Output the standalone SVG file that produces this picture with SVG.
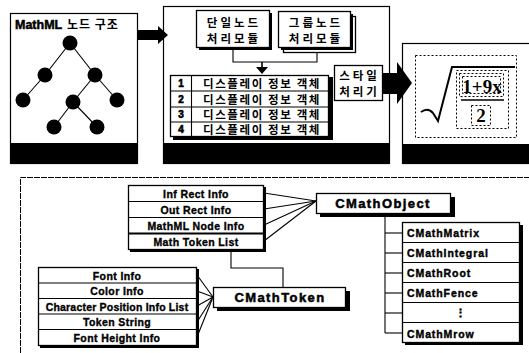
<svg xmlns="http://www.w3.org/2000/svg" width="529" height="353" viewBox="0 0 529 353">
  <style>
    .frame { fill: #fff; stroke: #000; stroke-width: 1.2; }
    .box { fill: #fff; stroke: #000; stroke-width: 1.3; }
    .shadow { fill: #000; }
    .bar { fill: #000; }
    .line { fill: none; stroke: #000; stroke-width: 1.1; }
    .dot { fill: none; stroke: #000; stroke-width: 1; stroke-dasharray: 2 2; }
    .ko { font-family: "Noto Sans CJK KR", "Noto Sans", sans-serif; font-weight: bold; fill: #000; }
    .en { font-family: "Liberation Sans", Arial, sans-serif; font-weight: bold; fill: #000; }
    .cell { font-size: 10.5px; letter-spacing: 0.4px; text-anchor: middle; stroke: #000; stroke-width: 0.35; }
    .cls { font-size: 13px; letter-spacing: 1.4px; text-anchor: middle; stroke: #000; stroke-width: 0.5; }
    .sub { font-size: 10.5px; letter-spacing: 0.9px; stroke: #000; stroke-width: 0.4; }
    .math { font-family: "Liberation Serif", "Times New Roman", serif; font-weight: bold; font-size: 19px; fill: #000; }
    .two { font-size: 11.5px; letter-spacing: 3px; text-anchor: middle; }
  </style>

  <!-- Panel 1: MathML node tree -->
  <g id="panel-tree">
    <rect class="frame" x="10.5" y="13.5" width="127" height="150"/>
    <rect class="bar" x="10" y="143" width="128" height="21"/>
    <text x="15" y="29" class="en" font-size="12.5" stroke="#000" stroke-width="0.5">MathML</text>
    <text x="67" y="29" class="ko" font-size="12" letter-spacing="1">노드 구조</text>
    <g class="line" stroke-width="1.4">
      <line x1="70" y1="43" x2="45" y2="75"/>
      <line x1="70" y1="43" x2="95" y2="75"/>
      <line x1="45" y1="75" x2="23" y2="100"/>
      <line x1="95" y1="75" x2="73" y2="102"/>
      <line x1="95" y1="75" x2="117" y2="100"/>
      <line x1="73" y1="102" x2="54" y2="127"/>
      <line x1="73" y1="102" x2="97" y2="127"/>
    </g>
    <g fill="#000">
      <circle cx="70" cy="43" r="7.5"/>
      <circle cx="45" cy="75" r="7.5"/>
      <circle cx="95" cy="75" r="7.5"/>
      <circle cx="23" cy="100" r="7.5"/>
      <circle cx="73" cy="102" r="7.5"/>
      <circle cx="117" cy="100" r="7.5"/>
      <circle cx="54" cy="127" r="7.5"/>
      <circle cx="97" cy="127" r="7.5"/>
    </g>
  </g>

  <!-- Panel 2: processing modules -->
  <g id="panel-process">
    <rect class="frame" x="163.5" y="6.5" width="226" height="157"/>
    <rect class="bar" x="163" y="143" width="227" height="21"/>
  </g>

  <g id="node-single">
    <rect class="shadow" x="199" y="13" width="73" height="37"/>
    <rect class="box" x="196.5" y="10.5" width="73" height="37"/>
    <text x="234" y="27" class="ko two">단일노드</text>
    <text x="234" y="43" class="ko two">처리모듈</text>
  </g>

  <g id="node-group">
    <rect class="box" x="283.5" y="16.5" width="72" height="36"/>
    <rect class="shadow" x="281" y="14" width="72" height="36"/>
    <rect class="box" x="278.5" y="11.5" width="72" height="36"/>
    <text x="316" y="27" class="ko two">그룹노드</text>
    <text x="316" y="43" class="ko two">처리모듈</text>
  </g>

  <g id="node-display-table">
    <rect class="shadow" x="173" y="77" width="160" height="63"/>
    <rect class="box" x="170.5" y="75.5" width="158" height="61"/>
    <g class="line">
      <line x1="170.5" y1="91" x2="328.5" y2="91"/>
      <line x1="170.5" y1="107" x2="328.5" y2="107"/>
      <line x1="170.5" y1="122" x2="328.5" y2="122"/>
      <line x1="191.5" y1="75.5" x2="191.5" y2="136.5"/>
    </g>
    <g class="en" font-size="10" text-anchor="middle" stroke="#000" stroke-width="0.6">
      <text x="181" y="87">1</text>
      <text x="181" y="103">2</text>
      <text x="181" y="118">3</text>
      <text x="181" y="133">4</text>
    </g>
    <g class="ko" font-size="11.5" letter-spacing="1.6" text-anchor="middle">
      <text x="262" y="87.5">디스플레이 정보 객체</text>
      <text x="262" y="103.5">디스플레이 정보 객체</text>
      <text x="262" y="118.5">디스플레이 정보 객체</text>
      <text x="262" y="133.5">디스플레이 정보 객체</text>
    </g>
  </g>

  <g id="node-style">
    <rect class="box" x="334.5" y="65.5" width="48" height="35"/>
    <text x="359.5" y="80" class="ko two" letter-spacing="2.5">스타일</text>
    <text x="359.5" y="96" class="ko two" letter-spacing="2.5">처리기</text>
  </g>

  <!-- Panel 3: rendered result -->
  <g id="panel-render">
    <rect class="frame" x="402.5" y="43.5" width="130" height="120"/>
    <rect class="bar" x="402" y="144" width="127" height="20"/>
    <rect class="dot" x="415.5" y="55.5" width="101" height="82"/>
    <path d="M421 112 Q428 107 433 113 L438 121 L452 67 L515 67" fill="none" stroke="#000" stroke-width="2"/>
    <rect class="dot" x="456.5" y="70.5" width="52" height="58"/>
    <rect class="dot" x="459.5" y="73.5" width="44" height="23"/>
    <rect class="dot" x="462.5" y="76.5" width="38" height="17"/>
    <line x1="461" y1="100" x2="504" y2="100" stroke="#000" stroke-width="1.6"/>
    <rect class="dot" x="471.5" y="105.5" width="19" height="20"/>
    <text x="482" y="93" class="math" text-anchor="middle">1+9x</text>
    <text x="481" y="122" class="math" text-anchor="middle">2</text>
  </g>

  <!-- Lower part: class structure -->
  <g id="panel-classes">
    <path d="M20.5 353 L20.5 177.5 L529 177.5" fill="none" stroke="#000" stroke-width="1" stroke-dasharray="6 1"/>
  </g>

  <g id="node-object-fields">
    <rect class="shadow" x="130" y="187" width="136" height="65"/>
    <rect class="box" x="128.5" y="185.5" width="135" height="64"/>
    <g class="line">
      <line x1="128.5" y1="201.5" x2="263.5" y2="201.5"/>
      <line x1="128.5" y1="217.5" x2="263.5" y2="217.5"/>
      <line x1="128.5" y1="233.5" x2="263.5" y2="233.5" stroke-width="1.8"/>
    </g>
    <g class="en cell">
      <text x="196" y="197.5">Inf Rect Info</text>
      <text x="196" y="213.5">Out Rect Info</text>
      <text x="196" y="229.5">MathML Node Info</text>
      <text x="196" y="245.5">Math Token List</text>
    </g>
  </g>

  <g id="node-cmathobject">
    <rect class="shadow" x="320" y="197" width="135" height="20"/>
    <rect class="box" x="316.5" y="193.5" width="134" height="20"/>
    <text x="383" y="208" class="en cls">CMathObject</text>
  </g>

  <g id="node-token-fields">
    <rect class="shadow" x="40" y="269" width="159" height="79"/>
    <rect class="box" x="38.5" y="267.5" width="158" height="78"/>
    <g class="line">
      <line x1="38.5" y1="283" x2="196.5" y2="283"/>
      <line x1="38.5" y1="298.5" x2="196.5" y2="298.5"/>
      <line x1="38.5" y1="314" x2="196.5" y2="314"/>
      <line x1="38.5" y1="329.5" x2="196.5" y2="329.5"/>
    </g>
    <g class="en cell">
      <text x="117" y="279.5">Font Info</text>
      <text x="117" y="295">Color Info</text>
      <text x="117" y="310.5" letter-spacing="0.2">Character Position Info List</text>
      <text x="117" y="326">Token String</text>
      <text x="117" y="341.5">Font Height Info</text>
    </g>
  </g>

  <g id="node-cmathtoken">
    <rect class="shadow" x="217" y="291" width="133" height="20"/>
    <rect class="box" x="213.5" y="287.5" width="132" height="20"/>
    <text x="280" y="302" class="en cls">CMathToken</text>
  </g>

  <g id="node-subclasses">
    <rect class="shadow" x="405" y="225" width="118" height="120"/>
    <rect class="box" x="402.5" y="222.5" width="117" height="120"/>
    <g class="line">
      <line x1="402.5" y1="242.5" x2="519.5" y2="242.5"/>
      <line x1="402.5" y1="262.5" x2="519.5" y2="262.5"/>
      <line x1="402.5" y1="282.5" x2="519.5" y2="282.5"/>
      <line x1="402.5" y1="302.5" x2="519.5" y2="302.5"/>
      <line x1="402.5" y1="322.5" x2="519.5" y2="322.5"/>
    </g>
    <g class="en sub">
      <text x="407" y="237">CMathMatrix</text>
      <text x="407" y="257">CMathIntegral</text>
      <text x="407" y="277">CMathRoot</text>
      <text x="407" y="297">CMathFence</text>
      <text x="461" y="317" text-anchor="middle">⋮</text>
      <text x="407" y="338">CMathMrow</text>
    </g>
  </g>

  <!-- Connectors -->
  <g id="connectors">
    <!-- tree to processing: block arrow -->
    <path d="M137 30 L158 30 L158 26 L168 35 L158 44 L158 40 L137 40 Z" fill="#000"/>
    <!-- module outputs merged into the display table -->
    <path class="line" d="M233 48 L233 62 L317 62 L317 52" stroke-width="1.6"/>
    <line x1="262" y1="62" x2="262" y2="68" stroke="#000" stroke-width="1.6"/>
    <path d="M256 67 L268 67 L262 74 Z" fill="#000"/>
    <!-- style processor to rendered output -->
    <path d="M383 73 L397 73 L397 62 L412 83 L397 104 L397 94 L383 94 Z" fill="#000"/>
    <!-- fields to CMathObject -->
    <g class="line">
      <line x1="264" y1="193" x2="316" y2="201"/>
      <line x1="264" y1="209" x2="316" y2="201"/>
      <line x1="264" y1="225" x2="316" y2="201"/>
      <line x1="264" y1="241" x2="316" y2="201"/>
    </g>
    <!-- token list to CMathToken -->
    <path class="line" d="M231 250 L231 268 L283 268 L283 287"/>
    <!-- fields to CMathToken -->
    <g class="line">
      <line x1="197" y1="275" x2="213" y2="297"/>
      <line x1="197" y1="291" x2="213" y2="297"/>
      <line x1="197" y1="306" x2="213" y2="297"/>
      <line x1="197" y1="322" x2="213" y2="297"/>
      <line x1="197" y1="337" x2="213" y2="297"/>
    </g>
    <!-- CMathObject subclasses -->
    <g class="line">
      <line x1="385" y1="214" x2="385" y2="333"/>
      <line x1="385" y1="233" x2="402" y2="233"/>
      <line x1="385" y1="253" x2="402" y2="253"/>
      <line x1="385" y1="273" x2="402" y2="273"/>
      <line x1="385" y1="293" x2="402" y2="293"/>
      <line x1="385" y1="313" x2="402" y2="313"/>
      <line x1="385" y1="333" x2="402" y2="333"/>
    </g>
  </g>
</svg>
